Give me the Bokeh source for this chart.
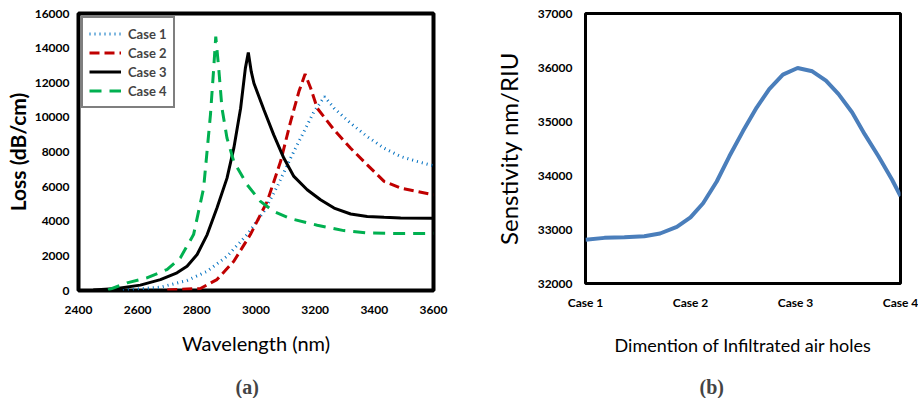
from bokeh.plotting import figure
from bokeh.layouts import row
from bokeh.models import FixedTicker, Range1d, Legend, LegendItem, Title
from bokeh.embed import file_html
from bokeh.resources import INLINE

# ---- Panel (a): loss spectra ----
case1_x = [2550, 2677, 2767, 2835, 2902, 2970, 3027, 3072, 3117, 3162, 3196, 3232, 3264, 3320, 3376, 3433, 3489, 3546, 3600]
case1_y = [30, 190, 580, 1110, 1980, 3230, 4570, 6010, 7650, 9180, 10330, 11200, 10530, 9660, 8890, 8220, 7740, 7450, 7200]

case2_x = [2700, 2812, 2868, 2925, 2981, 3038, 3083, 3117, 3145, 3166, 3185, 3207, 3264, 3320, 3376, 3433, 3489, 3546, 3600]
case2_y = [30, 115, 630, 1690, 3230, 5150, 7450, 9760, 11490, 12500, 11680, 10530, 9280, 8220, 7260, 6300, 5920, 5720, 5530]

case3_x = [2450, 2530, 2609, 2677, 2733, 2767, 2801, 2835, 2868, 2902, 2925, 2948, 2964, 2974, 2984, 2993, 3027, 3060, 3094, 3128, 3173, 3218, 3264, 3320, 3376, 3433, 3489, 3600]
case3_y = [30, 115, 310, 630, 1020, 1400, 2080, 3230, 4760, 6490, 8220, 10530, 12830, 13750, 12640, 11970, 10430, 8990, 7650, 6590, 5820, 5240, 4760, 4420, 4280, 4230, 4190, 4180]

case4_x = [2500, 2564, 2631, 2699, 2744, 2789, 2823, 2846, 2857, 2864, 2874, 2885, 2902, 2925, 2970, 3015, 3060, 3117, 3207, 3297, 3376, 3489, 3600]
case4_y = [30, 440, 730, 1210, 1880, 3230, 5920, 10140, 12830, 14660, 12830, 10530, 8800, 7450, 6110, 5150, 4570, 4150, 3770, 3460, 3320, 3290, 3300]

loss_ticks = [0, 2000, 4000, 6000, 8000, 10000, 12000, 14000, 16000]
wl_ticks = [2400, 2600, 2800, 3000, 3200, 3400, 3600]

# ---- Panel (b): sensitivity ----
case_labels = ["Case 1", "Case 2", "Case 3", "Case 4"]
case_pos = [1, 2, 3, 4]
sens_x = [1.0, 1.18, 1.37, 1.56, 1.71, 1.87, 2.00, 2.12, 2.25, 2.37, 2.50, 2.63, 2.75, 2.88, 3.02,
          3.16, 3.29, 3.41, 3.54, 3.66, 3.79, 3.92, 4.0]
sens_y = [32810, 32845, 32857, 32876, 32926, 33050, 33225, 33486, 33889, 34356, 34822, 35259, 35600, 35867, 35990,
          35930, 35755, 35507, 35166, 34761, 34356, 33921, 33620]
sens_ticks = [32000, 33000, 34000, 35000, 36000, 37000]

FONT = "Lato"

def style(p):
    p.outline_line_color = "black"
    p.xgrid.visible = False
    p.ygrid.visible = False
    for ax in (p.xaxis[0], p.yaxis[0]):
        ax.axis_line_color = None
        ax.major_tick_line_color = None
        ax.minor_tick_line_color = None
        ax.major_tick_out = 0
        ax.major_tick_in = 0
        ax.minor_tick_out = 0
        ax.minor_tick_in = 0
        ax.major_label_text_font = FONT
        ax.major_label_text_font_style = "bold"
        ax.major_label_text_font_size = "12px"
        ax.major_label_text_color = "black"
        ax.axis_label_text_font = FONT
        ax.axis_label_text_color = "black"

p1 = figure(width=460, height=398, frame_width=355, frame_height=277,
            output_backend="svg", toolbar_location=None,
            x_range=Range1d(2400, 3600), y_range=Range1d(0, 16000),
            min_border_left=78, min_border_right=27, min_border_top=13, min_border_bottom=108)
style(p1)
p1.outline_line_width = 4
p1.xaxis.ticker = FixedTicker(ticks=wl_ticks)
p1.yaxis.ticker = FixedTicker(ticks=loss_ticks)
p1.xaxis.axis_label = "Wavelength (nm)"
p1.yaxis.axis_label = "Loss (dB/cm)"
p1.xaxis.axis_label_text_font_size = "20px"
p1.xaxis.axis_label_text_font_style = "normal"
p1.yaxis.axis_label_text_font_size = "21px"
p1.yaxis.axis_label_text_font_style = "bold"
p1.xaxis.major_label_standoff = 15
p1.yaxis.major_label_standoff = 9
p1.xaxis.axis_label_standoff = 14
p1.yaxis.axis_label_standoff = 2

r1 = p1.line(case1_x, case1_y, line_color="#0070C0", line_width=3, line_dash="1 4")
r2 = p1.line(case2_x, case2_y, line_color="#C00000", line_width=3, line_dash="10 5")
r3 = p1.line(case3_x, case3_y, line_color="black", line_width=3)
r4 = p1.line(case4_x, case4_y, line_color="#00B050", line_width=3, line_dash="12 8")

leg = Legend(items=[LegendItem(label="Case 1", renderers=[r1]),
                    LegendItem(label="Case 2", renderers=[r2]),
                    LegendItem(label="Case 3", renderers=[r3]),
                    LegendItem(label="Case 4", renderers=[r4])],
             location="top_left", margin=3, padding=6, spacing=0, label_standoff=7,
             label_height=19, glyph_height=19, glyph_width=32,
             label_text_font=FONT, label_text_font_style="bold", label_text_font_size="13px",
             border_line_color="black", border_line_width=2, background_fill_alpha=1)
p1.add_layout(leg)
p1.add_layout(Title(text="(a)", align="left", offset=157, standoff=33,
                    text_font="Liberation Serif", text_font_style="bold",
                    text_font_size="20px"), "below")

p2 = figure(width=458, height=398, frame_width=315, frame_height=270,
            output_backend="svg", toolbar_location=None,
            x_range=Range1d(1, 4), y_range=Range1d(32000, 37000),
            min_border_left=125, min_border_right=18, min_border_top=13, min_border_bottom=115)
style(p2)
p2.outline_line_width = 3
p2.xaxis.ticker = FixedTicker(ticks=case_pos)
p2.xaxis.major_label_overrides = {pos: lab for pos, lab in zip(case_pos, case_labels)}
p2.yaxis.ticker = FixedTicker(ticks=sens_ticks)
p2.xaxis.major_label_text_font_size = "12px"
p2.xaxis.axis_label = "Dimention of Infiltrated air holes"
p2.yaxis.axis_label = "Senstivity nm/RIU"
p2.xaxis.axis_label_text_font_size = "18px"
p2.xaxis.axis_label_text_font_style = "normal"
p2.yaxis.axis_label_text_font_size = "24px"
p2.yaxis.axis_label_text_font_style = "normal"
p2.xaxis.major_label_standoff = 11
p2.yaxis.major_label_standoff = 13
p2.xaxis.axis_label_standoff = 21
p2.yaxis.axis_label_standoff = 12
p2.line(sens_x, sens_y, line_color="#4A7EBB", line_width=4)
p2.add_layout(Title(text="(b)", align="left", offset=114, standoff=30,
                    text_font="Liberation Serif", text_font_style="bold",
                    text_font_size="20px"), "below")

layout = row(p1, p2)
open("out.html", "w").write(file_html(layout, INLINE))
